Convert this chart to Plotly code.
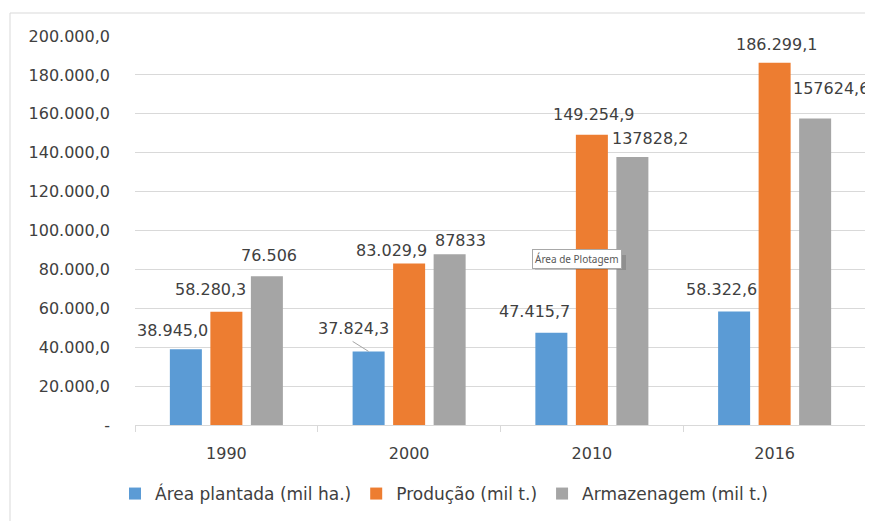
import plotly.graph_objects as go

years = ["1990", "2000", "2010", "2016"]
area = [38945.0, 37824.3, 47415.7, 58322.6]
producao = [58280.3, 83029.9, 149254.9, 186299.1]
armazenagem = [76506, 87833, 137828.2, 157624.6]

area_labels = ["38.945,0", "37.824,3", "47.415,7", "58.322,6"]
prod_labels = ["58.280,3", "83.029,9", "149.254,9", "186.299,1"]
arm_labels = ["76.506", "87833", "137828,2", "157624,6"]

series_names = ["Área plantada (mil ha.)", "Produção (mil t.)", "Armazenagem (mil t.)"]
colors = ["#5B9BD5", "#ED7D31", "#A5A5A5"]

ytick_vals = list(range(0, 200001, 20000))
ytick_text = ["-"] + [f"{v:,}".replace(",", ".") + ",0" for v in ytick_vals[1:]]

FONT = "DejaVu Sans"
OFF = 8  # page body margin
W, H = 873 - OFF, 521 - OFF
ML, MR, MT, MB = 135 - OFF, 7, 36 - OFF, 96
PW = W - ML - MR
PH = H - MT - MB


def pxx(page_x):
    return (page_x - OFF - ML) / PW


def pyy(page_y):
    return (MT + PH - (page_y - OFF)) / PH


fig = go.Figure()
for name, vals, col in zip(series_names, [area, producao, armazenagem], colors):
    fig.add_trace(go.Bar(x=years, y=vals, name=name, marker_color=col,
                         marker_line_width=0, hoverinfo="skip"))

# label offsets (pixel) relative to top-centre of each bar
slot = 40.5
series_off = [-slot, 0, slot]
label_dx = [[-13, -15, -17, -13], [-16, -18, 2, 2], [2, 11, 18, 16]]
label_dy = [[19, 23, 21, 22], [22, 13, 20, 18], [21, 14, 18, 30]]
all_vals = [area, producao, armazenagem]
all_labels = [area_labels, prod_labels, arm_labels]
for s in range(3):
    for i, yr in enumerate(years):
        fig.add_annotation(x=i, y=all_vals[s][i], xref="x", yref="y",
                           text=all_labels[s][i], showarrow=False,
                           xshift=series_off[s] + label_dx[s][i],
                           yshift=label_dy[s][i], yanchor="middle",
                           font=dict(family=FONT, size=16, color="#404040"))

# leader line for 2000 area label
fig.add_shape(type="line", xref="x", yref="y", xsizemode="pixel", ysizemode="pixel",
              xanchor=years.index("2000"), yanchor=area[1], x0=-slot - 16, y0=10, x1=-slot, y1=0,
              line=dict(color="#A6A6A6", width=1))

# tooltip "Área de Plotagem"
fig.add_shape(type="rect", xref="paper", yref="paper",
              x0=pxx(535), x1=pxx(626), y0=pyy(270), y1=pyy(255),
              fillcolor="rgba(0,0,0,0.13)", line_width=0, layer="above")
fig.add_annotation(x=pxx(532), y=pyy(259.5), xref="paper", yref="paper",
                   xanchor="left", yanchor="middle", text="Área de Plotagem",
                   showarrow=False, bgcolor="white", bordercolor="#A8A8A8", borderwidth=1,
                   borderpad=2, font=dict(family="Noto Sans", size=10, color="#575757"))

# chart border (left and top)
fig.add_shape(type="line", xref="paper", yref="paper",
              x0=pxx(10), x1=pxx(10), y0=pyy(13), y1=pyy(530),
              line=dict(color="#D9D9D9", width=1))
fig.add_shape(type="line", xref="paper", yref="paper",
              x0=pxx(10), x1=pxx(900), y0=pyy(13), y1=pyy(13),
              line=dict(color="#D9D9D9", width=1))

fig.update_layout(
    width=W, height=H,
    margin=dict(l=ML, r=MR, t=MT, b=MB, autoexpand=False),
    paper_bgcolor="white", plot_bgcolor="white",
    barmode="group", bargap=0.335, bargroupgap=0.21,
    font=dict(family=FONT, size=16, color="#404040"),
    showlegend=True,
    legend=dict(orientation="h", x=pxx(444), xanchor="center",
                y=pyy(494), yanchor="middle",
                font=dict(family=FONT, size=17, color="#404040"),
                itemwidth=30, bgcolor="rgba(0,0,0,0)"),
    xaxis=dict(type="category", categoryorder="array", categoryarray=years,
               range=[-0.5, len(years) - 0.5], automargin=False,
               showgrid=False, showline=True, linecolor="#D9D9D9", linewidth=1,
               ticks="outside", tickson="boundaries", ticklen=6, tickcolor="#D9D9D9",
               tickfont=dict(family=FONT, size=16, color="#404040"),
               ticklabelstandoff=14),
    yaxis=dict(range=[0, 200000], tickvals=ytick_vals, ticktext=ytick_text, automargin=False,
               showgrid=True, gridcolor="#D9D9D9", gridwidth=1, zeroline=False,
               showline=False, ticks="", ticklabelstandoff=24,
               tickfont=dict(family=FONT, size=16, color="#404040")),
)

fig.write_html("out.html")
